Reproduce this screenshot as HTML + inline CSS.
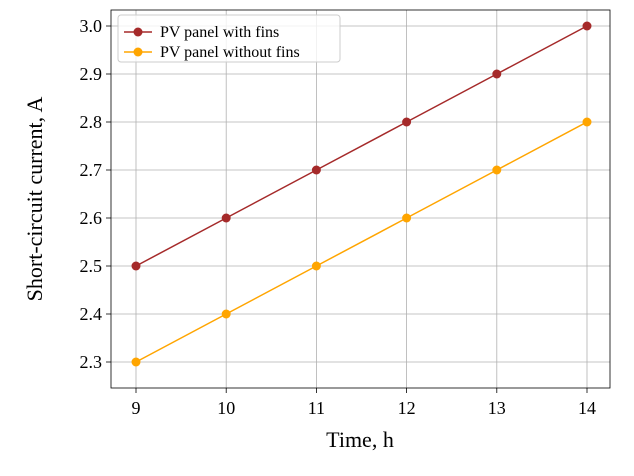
<!DOCTYPE html>
<html><head><meta charset="utf-8">
<style>
body{margin:0;background:#fff;}
svg text{font-family:"Liberation Serif",serif;fill:#000;}
</style></head>
<body>
<svg id="chart" width="634" height="471" xmlns="http://www.w3.org/2000/svg"></svg>
<script>
const hours = [9, 10, 11, 12, 13, 14];
const withFins = [2.5, 2.6, 2.7, 2.8, 2.9, 3.0];
const withoutFins = [2.3, 2.4, 2.5, 2.6, 2.7, 2.8];
const yTicks = [2.3, 2.4, 2.5, 2.6, 2.7, 2.8, 2.9, 3.0];
const xTicks = [9, 10, 11, 12, 13, 14];

const NS = "http://www.w3.org/2000/svg";
const svg = document.getElementById('chart');
const L = 111, R = 610, T = 10, B = 388;
const xs = v => 136 + (v - 9) * 90.2;
const ys = v => 26 + (3.0 - v) * 480;
function mk(tag, attrs, parent) {
  const e = document.createElementNS(NS, tag);
  for (const k in attrs) e.setAttribute(k, attrs[k]);
  (parent || svg).appendChild(e);
  return e;
}
xTicks.forEach(t => {
  const g = mk('line', {x1: xs(t), x2: xs(t), y1: T, y2: B, stroke: '#b0b0b0', 'stroke-width': 0.8});
  
  
  const tk = mk('line', {x1: xs(t), x2: xs(t), y1: B, y2: B + 5, stroke: '#000', 'stroke-width': 0.8});
  
  
  const lb = mk('text', {x: xs(t), y: B + 26, 'text-anchor': 'middle', 'font-size': 18});
  lb.textContent = t;
  
  
});
yTicks.forEach(t => {
  const g = mk('line', {x1: L, x2: R, y1: ys(t), y2: ys(t), stroke: '#b0b0b0', 'stroke-width': 0.8});
  
  
  const tk = mk('line', {x1: L - 5, x2: L, y1: ys(t), y2: ys(t), stroke: '#000', 'stroke-width': 0.8});
  
  
  const lb = mk('text', {x: L - 9, y: ys(t) + 6, 'text-anchor': 'end', 'font-size': 18});
  lb.textContent = t.toFixed(1);
  
  
});
function series(vals, color, name) {
  const pts = hours.map((h, i) => xs(h) + ',' + ys(vals[i])).join(' ');
  const pl = mk('polyline', {points: pts, fill: 'none', stroke: color, 'stroke-width': 1.5});
  
  
  hours.forEach((h, i) => {
    const c = mk('circle', {cx: xs(h), cy: ys(vals[i]), r: 4.5, fill: color});
    
    
  });
}
series(withFins, '#a52a2a', 'with-fins');
series(withoutFins, '#ffa500', 'without-fins');
const frame = mk('rect', {x: L, y: T, width: R - L, height: B - T, fill: 'none', stroke: '#000', 'stroke-width': 0.8});


const lg = mk('g', {});


mk('rect', {x: 118, y: 15, width: 222, height: 47, rx: 3, fill: '#fff', 'fill-opacity': 0.8, stroke: '#ccc'}, lg);
[['PV panel with fins', '#a52a2a', 32], ['PV panel without fins', '#ffa500', 52]].forEach(([txt, col, y]) => {
  const e = mk('g', {}, lg);
  
  
  mk('line', {x1: 124, x2: 152, y1: y, y2: y, stroke: col, 'stroke-width': 1.5}, e);
  mk('circle', {cx: 138, cy: y, r: 4.5, fill: col}, e);
  const t = mk('text', {x: 160, y: y + 5, 'font-size': 16}, e);
  t.textContent = txt;
});
const xl = mk('text', {x: 360, y: 447, 'text-anchor': 'middle', 'font-size': 22});
xl.textContent = 'Time, h';


const yl = mk('text', {x: 0, y: 0, 'text-anchor': 'middle', 'font-size': 22, transform: 'translate(42,199) rotate(-90)'});
yl.textContent = 'Short-circuit current, A';


</script>
</body></html>
